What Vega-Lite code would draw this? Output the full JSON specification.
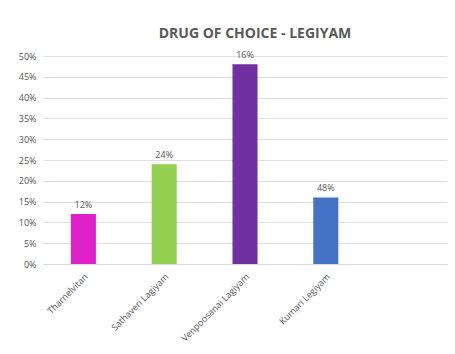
{
  "$schema": "https://vega.github.io/schema/vega-lite/v6.json",
  "width": 404,
  "height": 208,
  "autosize": "none",
  "padding": {"left": 43, "top": 56, "right": 8, "bottom": 90},
  "background": "white",
  "config": {"view": {"stroke": null}, "font": "Open Sans"},
  "title": {
    "text": "DRUG OF CHOICE - LEGIYAM",
    "fontSize": 14,
    "fontWeight": "bold",
    "color": "#595959",
    "font": "Open Sans",
    "anchor": "middle",
    "dx": 10,
    "offset": 10
  },
  "data": {
    "values": [
      {"drug": "Tharnelvitan", "value": 0.12, "label": "12%", "color": "#E020C8"},
      {"drug": "Sathaveri Lagiyam", "value": 0.24, "label": "24%", "color": "#92D050"},
      {"drug": "Venpoosanai Lagiyam", "value": 0.48, "label": "16%", "color": "#7030A0"},
      {"drug": "Kumari Legiyam", "value": 0.16, "label": "48%", "color": "#4472C4"}
    ]
  },
  "encoding": {
    "x": {
      "field": "drug",
      "type": "nominal",
      "sort": null,
      "scale": {"domain": ["Tharnelvitan", "Sathaveri Lagiyam", "Venpoosanai Lagiyam", "Kumari Legiyam", ""], "paddingInner": 0.69, "paddingOuter": 0.345},
      "axis": {
        "title": null,
        "labelAngle": -45,
        "labelFontSize": 9,
        "labelColor": "#595959",
        "ticks": false,
        "domainColor": "#d9d9d9",
        "labelPadding": 8
      }
    },
    "y": {
      "field": "value",
      "type": "quantitative",
      "scale": {"domain": [0, 0.5]},
      "axis": {
        "title": null,
        "format": ".0%",
        "values": [0, 0.05, 0.1, 0.15, 0.2, 0.25, 0.3, 0.35, 0.4, 0.45, 0.5],
        "labelFontSize": 9,
        "labelColor": "#595959",
        "ticks": false,
        "domain": false,
        "gridColor": "#e0e0e0",
        "labelPadding": 7
      }
    }
  },
  "layer": [
    {
      "mark": {"type": "bar"},
      "encoding": {
        "color": {"field": "color", "type": "nominal", "scale": null}
      }
    },
    {
      "mark": {"type": "text", "dy": -9, "fontSize": 9, "color": "#595959"},
      "encoding": {"text": {"field": "label"}}
    }
  ]
}
